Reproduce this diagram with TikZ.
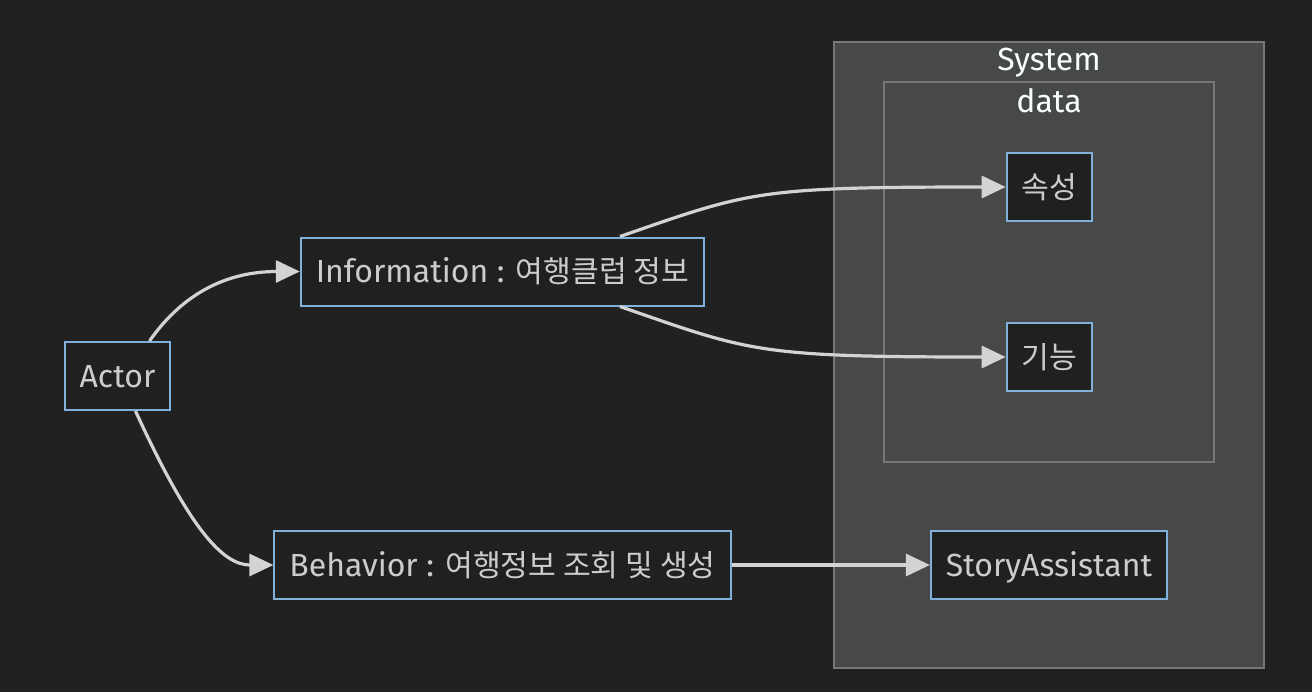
\documentclass[tikz,border=0pt]{standalone}
\usepackage{fontspec}
\setmainfont{Fira Sans}
\newfontfamily\krfont{Noto Sans CJK KR}
\newcommand{\ko}[1]{{\krfont\fontsize{15.1}{18}\selectfont #1}}
\usetikzlibrary{arrows.meta}
\definecolor{bgdark}{HTML}{212121}
\definecolor{clusterfill}{HTML}{474949}
\definecolor{clusterline}{HTML}{767878}
\definecolor{nodefill}{HTML}{1F2020}
\definecolor{nodeline}{HTML}{81B1DB}
\definecolor{edgeline}{HTML}{D3D3D3}
\definecolor{nodetext}{HTML}{CCCCCC}
\definecolor{titletext}{HTML}{F9FFFE}

\begin{document}
\begin{tikzpicture}[x=0.5pt, y=-0.5pt,
  box/.style={draw=nodeline, line width=1pt, fill=nodefill, text=nodetext, inner xsep=7.5pt, minimum height=34pt, text height=13pt, text depth=2pt, font=\fontsize{16}{19}\selectfont},
  edge/.style={draw=edgeline, line width=1.6pt, -{Triangle[length=12pt, width=11pt]}},
  cluster/.style={draw=clusterline, line width=1pt, fill=clusterfill},
  title/.style={text=titletext, font=\fontsize{16}{19}\selectfont}]
  \fill[bgdark] (0,0) rectangle (1312,692);
  \useasboundingbox (0,0) rectangle (1312,692);
  \filldraw[cluster] (834,42) rectangle (1264,668);
  \filldraw[cluster] (884,82) rectangle (1214,462);
  \node[title] (systitle) at (1049,63) {System};
  \node[title] (datatitle) at (1049,101) {data};
  \node[box] (actor) at (117.5,376) {Actor};
  \node[box] (info) at (502.5,271.5) {Information : \ko{여행클럽 정보}};
  \node[box] (behavior) at (502.5,565) {Behavior : \ko{여행정보 조회 및 생성}};
  \node[box] (attr) at (1049.5,187) {\ko{속성}};
  \node[box] (func) at (1049.5,357) {\ko{기능}};
  \node[box] (story) at (1049,565) {StoryAssistant};
  \draw[edge] ([xshift=16pt]actor.north) .. controls +(35,-50) and +(-70,0) .. (info.west);
  \draw[edge] ([xshift=9pt]actor.south) .. controls +(55,120) and +(-50,0) .. (behavior.west);
  \draw[edge] ([xshift=58.75pt]info.north) .. controls +(130,-45) and +(-250,0) .. (attr.west);
  \draw[edge] ([xshift=58.75pt]info.south) .. controls +(130,45) and +(-250,0) .. (func.west);
  \draw[edge] (behavior.east) -- (story.west);
\end{tikzpicture}
\end{document}
